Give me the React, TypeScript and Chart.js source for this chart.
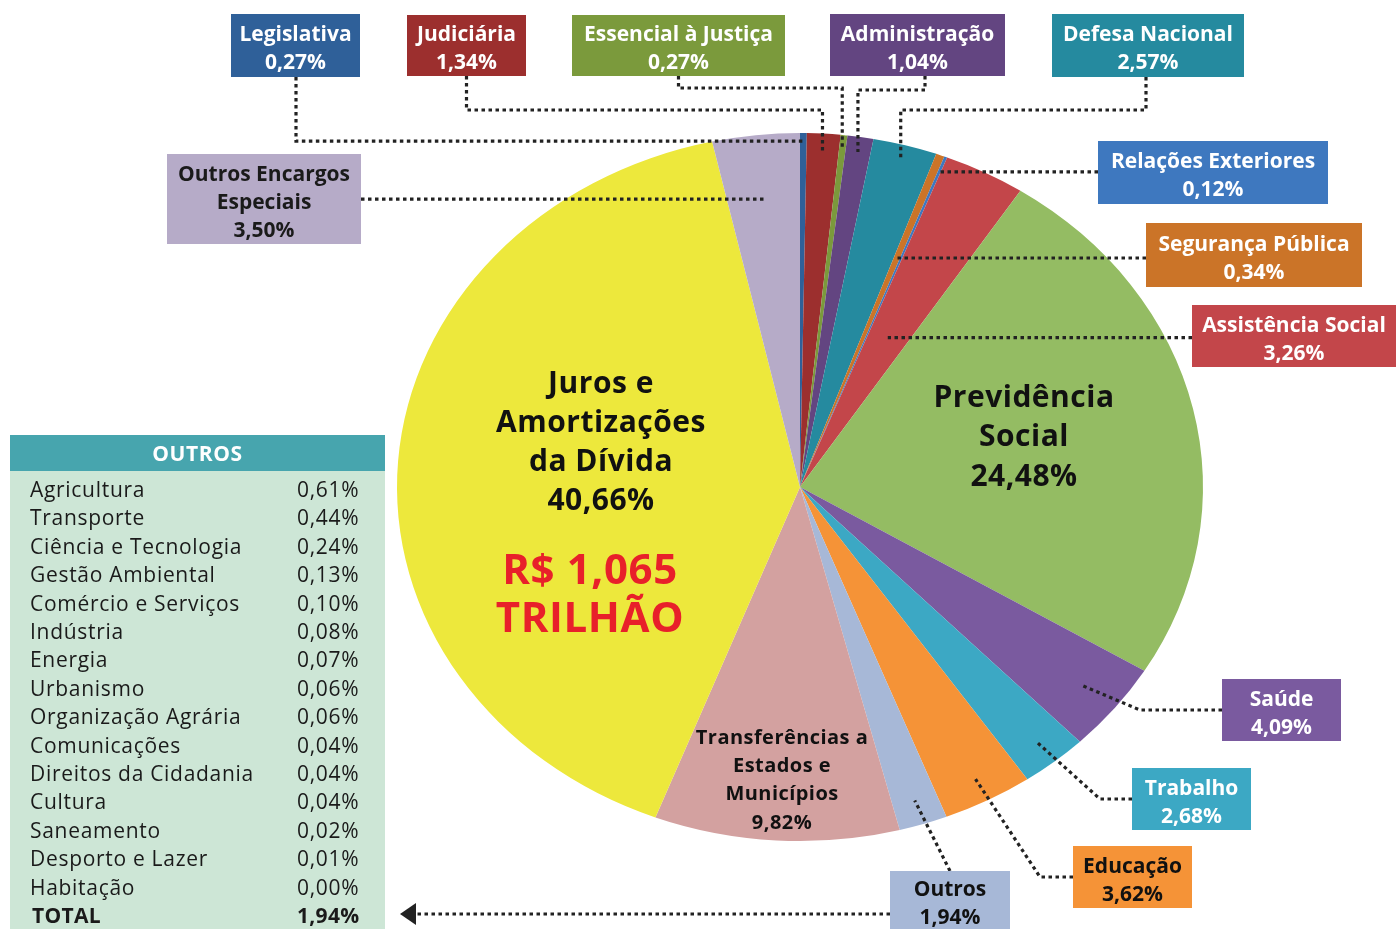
import React, { useEffect, useRef } from "react";
import { Chart, registerables } from "chart.js";

Chart.register(...registerables);

// ---------- data ----------
const categories = [
  "Legislativa",
  "Judiciária",
  "Essencial à Justiça",
  "Administração",
  "Defesa Nacional",
  "Segurança Pública",
  "Relações Exteriores",
  "Assistência Social",
  "Previdência Social",
  "Saúde",
  "Trabalho",
  "Educação",
  "Outros",
  "Transferências a Estados e Municípios",
  "Juros e Amortizações da Dívida",
  "Outros Encargos Especiais",
];
const shares = [0.27, 1.34, 0.27, 1.04, 2.57, 0.34, 0.12, 3.26, 24.48, 4.09, 2.68, 3.62, 1.94, 9.82, 40.66, 3.5];
const sliceColors = [
  "#2F6099", "#9C2F2E", "#7B9A3C", "#634581", "#258A9F", "#CB7428", "#3E78BF", "#C3464A",
  "#94BC63", "#7A5A9F", "#3CA8C4", "#F59337", "#A7B8D7", "#D3A1A0", "#EDE83C", "#B6ABC8",
];

const otherItems = [
  "Agricultura", "Transporte", "Ciência e Tecnologia", "Gestão Ambiental", "Comércio e Serviços",
  "Indústria", "Energia", "Urbanismo", "Organização Agrária", "Comunicações",
  "Direitos da Cidadania", "Cultura", "Saneamento", "Desporto e Lazer", "Habitação",
];
const otherShares = [0.61, 0.44, 0.24, 0.13, 0.1, 0.08, 0.07, 0.06, 0.06, 0.04, 0.04, 0.04, 0.02, 0.01, 0.0];
const otherTotal = 1.94;
const tableTitle = "OUTROS";
const totalLabel = "TOTAL";
const budgetLines = ["R$ 1,065", "TRILHÃO"];

// ---------- layout / style ----------
const FONT = "'Open Sans', 'Noto Sans', sans-serif";
const W = 1396;
const H = 929;
const SX = 403 / 354; // horizontal stretch to get the elliptical pie

type Callout = {
  index: number;
  box: [number, number, number, number];
  lines?: string[];
  fg: string;
  route: "h" | "vh" | "vhv" | "hd" | "d";
  f: number;
  elbow?: number;
  exitX?: number;
};

const callouts: Callout[] = [
  { index: 0, box: [231, 14, 129, 63], fg: "#fff", route: "vh", f: 0.977, exitX: 296 },
  { index: 1, box: [407, 15, 119, 61], fg: "#fff", route: "vhv", f: 0.945, elbow: 110 },
  { index: 2, box: [572, 15, 213, 61], fg: "#fff", route: "vhv", f: 0.958, elbow: 88 },
  { index: 3, box: [830, 14, 175, 62], fg: "#fff", route: "vhv", f: 0.957, elbow: 90, exitX: 925 },
  { index: 4, box: [1052, 14, 192, 63], fg: "#fff", route: "vhv", f: 0.957, elbow: 110, exitX: 1146 },
  { index: 6, box: [1098, 141, 230, 63], fg: "#fff", route: "h", f: 0.955 },
  { index: 5, box: [1146, 223, 216, 64], fg: "#fff", route: "h", f: 0.69 },
  { index: 7, box: [1192, 305, 204, 62], fg: "#fff", route: "h", f: 0.475 },
  { index: 15, box: [167, 154, 194, 90], lines: ["Outros Encargos", "Especiais"], fg: "#1a1a1a", route: "h", f: 0.818 },
  { index: 9, box: [1222, 679, 119, 62], fg: "#fff", route: "hd", f: 0.9, elbow: 1140 },
  { index: 10, box: [1132, 768, 119, 62], fg: "#fff", route: "hd", f: 0.925, elbow: 1100 },
  { index: 11, box: [1073, 846, 119, 62], fg: "#111", route: "hd", f: 0.933, elbow: 1040 },
  { index: 12, box: [890, 871, 120, 58], fg: "#111", route: "d", f: 0.93, exitX: 950 },
];

const inner = [
  { index: 14, lines: ["Juros e", "Amortizações", "da Dívida"], x: 601, y: 384, size: 30, ls: 0.5, lh: 39.3 },
  { index: 8, lines: ["Previdência", "Social"], x: 1024, y: 398, size: 30, ls: 0.5, lh: 39.5 },
  { index: 13, lines: ["Transferências a", "Estados e", "Municípios"], x: 782, y: 738, size: 20, ls: 0.45, lh: 28.3 },
];

const table = { x: 10, y: 435, w: 375, headH: 36, bottom: 929, nameX: 30, valX: 297, firstRow: 491, rowH: 28.4 };

const fmt = (v: number) => v.toFixed(2).replace(".", ",") + "%";

export default function App() {
  const ref = useRef<HTMLCanvasElement | null>(null);

  useEffect(() => {
    document.body.style.margin = "0";
    const canvas = ref.current;
    if (!canvas) return;

    const ellipsePlugin = {
      id: "ellipse",
      beforeDatasetsDraw(chart: any) {
        const arc = chart.getDatasetMeta(0).data[0];
        const ctx = chart.ctx;
        ctx.save();
        ctx.translate(arc.x, arc.y);
        ctx.scale(SX, 1);
        ctx.translate(-arc.x, -arc.y);
      },
      afterDatasetsDraw(chart: any) {
        chart.ctx.restore();
      },
    };

    const annotPlugin = {
      id: "annot",
      afterDraw(chart: any) {
        const ctx: any = chart.ctx;
        const arcs = chart.getDatasetMeta(0).data;
        const anchor = (i: number, f: number) => {
          const a = arcs[i];
          const mid = (a.startAngle + a.endAngle) / 2;
          return {
            x: a.x + Math.cos(mid) * a.outerRadius * f * SX,
            y: a.y + Math.sin(mid) * a.outerRadius * f,
          };
        };
        const spacing = (px: number) => {
          if ("letterSpacing" in ctx) ctx.letterSpacing = `${px}px`;
        };

        // leader lines
        ctx.save();
        ctx.strokeStyle = "#222";
        ctx.lineWidth = 3.2;
        ctx.setLineDash([3.5, 3.5]);
        ctx.lineCap = "butt";
        for (const c of callouts) {
          const [bx, by, bw, bh] = c.box;
          const p = anchor(c.index, c.f);
          const cxb = c.exitX ?? bx + bw / 2;
          ctx.beginPath();
          if (c.route === "vh") {
            ctx.moveTo(cxb, by + bh);
            ctx.lineTo(cxb, p.y);
            ctx.lineTo(p.x, p.y);
          } else if (c.route === "vhv") {
            ctx.moveTo(cxb, by + bh);
            ctx.lineTo(cxb, c.elbow!);
            ctx.lineTo(p.x, c.elbow!);
            ctx.lineTo(p.x, p.y);
          } else if (c.route === "h") {
            const ex = bx > p.x ? bx : bx + bw;
            ctx.moveTo(ex, p.y);
            ctx.lineTo(p.x, p.y);
          } else if (c.route === "hd") {
            ctx.moveTo(bx, by + bh / 2);
            ctx.lineTo(c.elbow!, by + bh / 2);
            ctx.lineTo(p.x, p.y);
          } else {
            ctx.moveTo(cxb, by);
            ctx.lineTo(p.x, p.y);
          }
          ctx.stroke();
        }
        // arrow from "Outros" to the table
        const ob = callouts.find((c) => c.index === 12)!.box;
        const ay = ob[1] + ob[3] / 2 + 14;
        const tipX = table.x + table.w + 15;
        ctx.beginPath();
        ctx.moveTo(ob[0], ay);
        ctx.lineTo(tipX + 14, ay);
        ctx.stroke();
        ctx.setLineDash([]);
        ctx.fillStyle = "#222";
        ctx.beginPath();
        ctx.moveTo(tipX, ay);
        ctx.lineTo(tipX + 16, ay - 11);
        ctx.lineTo(tipX + 16, ay + 11);
        ctx.closePath();
        ctx.fill();
        ctx.restore();

        // label boxes
        ctx.save();
        ctx.textAlign = "center";
        ctx.textBaseline = "middle";
        for (const c of callouts) {
          const [bx, by, bw, bh] = c.box;
          ctx.fillStyle = sliceColors[c.index];
          ctx.fillRect(bx, by, bw, bh);
          const lines = [...(c.lines ?? [categories[c.index]]), fmt(shares[c.index])];
          const lh = 28;
          const y0 = by + bh / 2 - ((lines.length - 1) * lh) / 2 + 4;
          ctx.fillStyle = c.fg;
          ctx.font = `bold 21px ${FONT}`;
          lines.forEach((t, k) => ctx.fillText(t, bx + bw / 2, y0 + k * lh));
        }

        // texts inside the pie
        ctx.fillStyle = "#111";
        for (const t of inner) {
          ctx.font = `bold ${t.size}px ${FONT}`;
          spacing(t.ls);
          const all = [...t.lines, fmt(shares[t.index])];
          all.forEach((s, k) => ctx.fillText(s, t.x, t.y + k * t.lh));
        }
        ctx.fillStyle = "#E8202A";
        ctx.font = `bold 42px ${FONT}`;
        spacing(0.6);
        budgetLines.forEach((s, k) => ctx.fillText(s, 590, 572 + k * 48));
        spacing(0);

        // table
        ctx.fillStyle = "#47A5AE";
        ctx.fillRect(table.x, table.y, table.w, table.headH);
        ctx.fillStyle = "#CDE6D6";
        ctx.fillRect(table.x, table.y + table.headH, table.w, table.bottom - table.y - table.headH);
        ctx.fillStyle = "#fff";
        ctx.font = `bold 21px ${FONT}`;
        spacing(0.6);
        ctx.fillText(tableTitle, table.x + table.w / 2, table.y + table.headH / 2 + 2);
        ctx.textAlign = "left";
        ctx.fillStyle = "#1a1a1a";
        ctx.font = `21px ${FONT}`;
        spacing(0.7);
        otherItems.forEach((name, k) => {
          const y = table.firstRow + k * table.rowH;
          ctx.fillText(name, table.nameX, y);
          ctx.fillText(fmt(otherShares[k]), table.valX, y);
        });
        ctx.font = `bold 21px ${FONT}`;
        spacing(0.3);
        const ty = table.firstRow + otherItems.length * table.rowH;
        ctx.fillText(totalLabel, table.nameX + 2, ty);
        ctx.fillText(fmt(otherTotal), table.valX, ty);
        spacing(0);
        ctx.restore();
      },
    };

    const chart = new Chart(canvas, {
      type: "pie",
      data: {
        labels: categories,
        datasets: [{ data: shares, backgroundColor: sliceColors, borderWidth: 0 }],
      },
      options: {
        responsive: false,
        animation: false,
        devicePixelRatio: 1,
        layout: { padding: { top: 133, bottom: 88, left: 446, right: 242 } },
        plugins: { legend: { display: false }, tooltip: { enabled: false } },
      },
      plugins: [ellipsePlugin, annotPlugin],
    } as any);

    return () => chart.destroy();
  }, []);

  return (
    <div style={{ width: W, height: H, background: "#fff" }}>
      <canvas ref={ref} width={W} height={H} style={{ display: "block" }} />
    </div>
  );
}
